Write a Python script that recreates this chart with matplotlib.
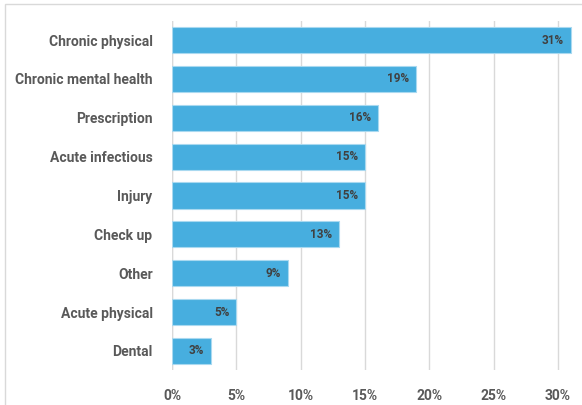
import matplotlib
matplotlib.use("Agg")
import matplotlib.pyplot as plt
from matplotlib.patches import Rectangle
from matplotlib import font_manager

categories = ["Chronic physical", "Chronic mental health", "Prescription",
              "Acute infectious", "Injury", "Check up", "Other",
              "Acute physical", "Dental"]
values = [31, 19, 16, 15, 15, 13, 9, 5, 3]
tick_values = [0, 5, 10, 15, 20, 25, 30]
tick_labels = ["0%", "5%", "10%", "15%", "20%", "25%", "30%"]

names = {f.name for f in font_manager.fontManager.ttflist}
family = ["Liberation Sans Narrow", "DejaVu Sans"] if "Liberation Sans Narrow" in names else ["Roboto", "DejaVu Sans"]
plt.rcParams["font.family"] = family

W, H = 582, 405
fig = plt.figure(figsize=(W / 100, H / 100), dpi=100)

# chart frame
fig.patches.append(Rectangle((5 / W, -0.1), 1.2, (H - 4) / H + 0.1,
                             transform=fig.transFigure, fill=False,
                             edgecolor="#d9d9d9", linewidth=1.0))

ax = fig.add_axes([172 / W, (H - 370) / H, (582 - 172) / W, (370 - 21) / H])
ax.set_xlim(0, 410 / 386 * 30)
n = len(categories)
ypos = list(range(n))
ax.set_ylim(n - 1 + 0.49, -0.49)

ax.barh(ypos, values, height=0.67, color="#47AEDF", edgecolor="#a9d9f0",
        linewidth=0.8, zorder=3)

for y, v in zip(ypos, values):
    ax.text(v - 0.55, y, f"{v}%", ha="right", va="center", fontsize=8.5,
            fontweight="bold", color="#404040", zorder=4)

ax.set_xticks(tick_values)
ax.set_xticklabels(tick_labels, fontsize=10, fontweight="bold", color="#595959")
ax.set_yticks(ypos)
ax.set_yticklabels(categories, fontsize=10, fontweight="bold", color="#595959")
ax.tick_params(axis="both", length=0)
ax.tick_params(axis="x", pad=14)
ax.tick_params(axis="y", pad=14)
ax.grid(axis="x", color="#d9d9d9", linewidth=1.0, zorder=0)
for s in ax.spines.values():
    s.set_visible(False)
ax.axvline(0, color="#d9d9d9", linewidth=1.0, zorder=2)

fig.savefig("out.png", dpi=100)
